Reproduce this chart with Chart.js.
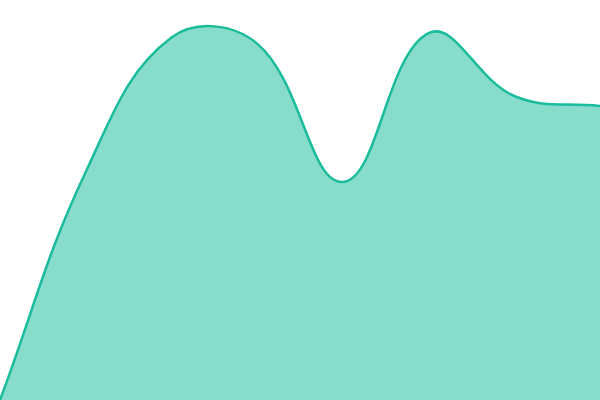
<!DOCTYPE html>
<html>
<head>
<meta charset="utf-8">
<script src="https://cdn.jsdelivr.net/npm/chart.js@4"></script>
<style>
  html, body { margin: 0; padding: 0; background: #fff; }
  #wrap { width: 600px; height: 400px; }
</style>
</head>
<body>
<div id="wrap"><canvas id="areaChart"></canvas></div>
<script>
// values (y scale 0..100)
const labels = ['1', '2', '3', '4', '5', '6', '7', '8'];
const values = [0, 57, 90.6, 89.1, 54.5, 91.7, 76, 73.5];
const yMin = 0;
const yMax = 100;

const ctx = document.getElementById('areaChart').getContext('2d');
new Chart(ctx, {
  type: 'line',
  data: {
    labels: labels,
    datasets: [{
      data: values,
      fill: true,
      backgroundColor: 'rgba(26,188,156,0.52)',
      borderColor: '#1abc9c',
      borderWidth: 2.5,
      tension: 0.4,
      pointRadius: 0
    }]
  },
  options: {
    responsive: true, maintainAspectRatio: false,
    animation: false,
    layout: { padding: 0 },
    plugins: { legend: { display: false }, tooltip: { enabled: false } },
    scales: {
      x: { display: false },
      y: { display: false, min: yMin, max: yMax }
    }
  }
});
</script>
</body>
</html>
